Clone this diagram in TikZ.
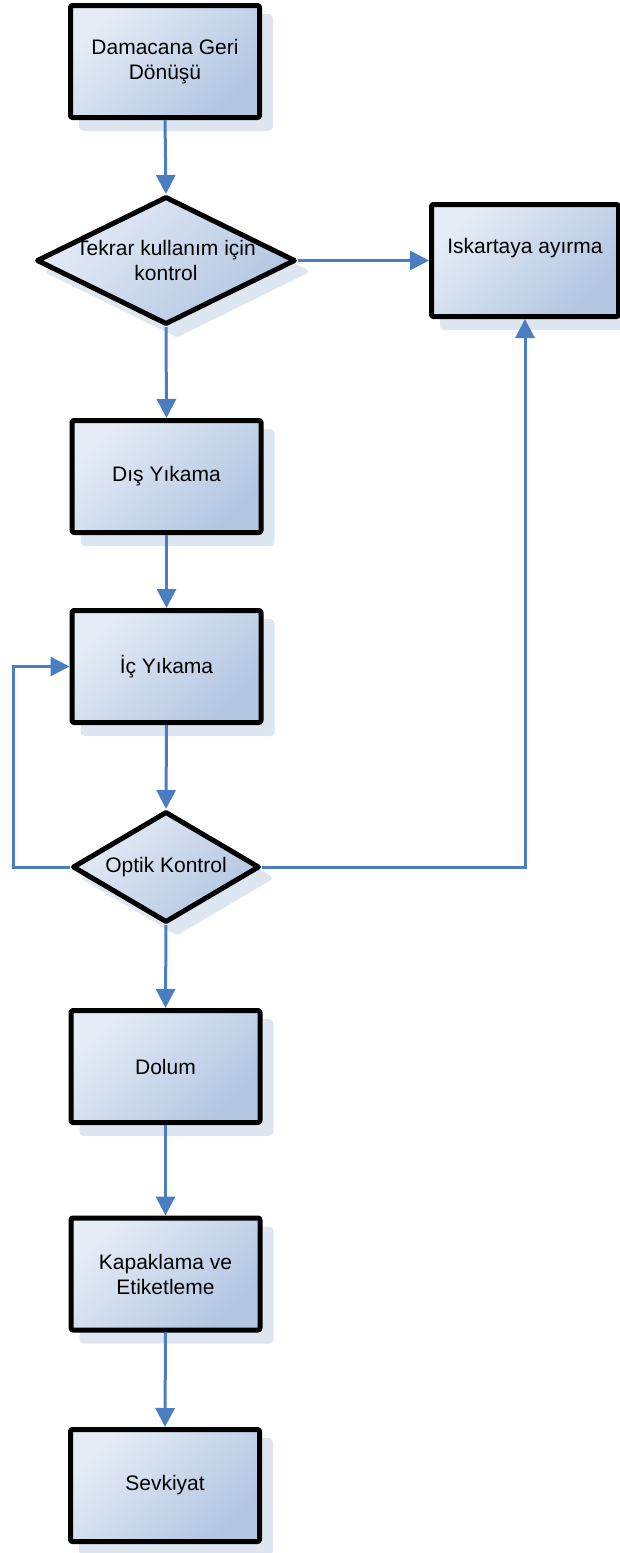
\documentclass[tikz,border=0pt]{standalone}
\usepackage{fontspec}
\setmainfont{Liberation Sans}
\usetikzlibrary{shapes.geometric,arrows.meta,shadows}

\definecolor{flowblue}{RGB}{74,126,193}
\definecolor{filltop}{RGB}{229,236,246}
\definecolor{fillbot}{RGB}{178,197,225}
\definecolor{shadowc}{RGB}{222,230,241}

\tikzset{
  shapebase/.style={draw=black, line width=5pt, line join=round,
    top color=filltop, bottom color=fillbot, shading angle=45,
    inner sep=0pt,
    general shadow={fill=shadowc, draw=shadowc, line width=5pt, line join=round,
      shadow xshift=11pt, shadow yshift=-11pt}},
  procbox/.style={shapebase, rectangle, rounded corners=2pt,
    minimum width=189pt, minimum height=112pt,
    font=\fontsize{21}{25}\selectfont, align=center},
  decision/.style={shapebase, diamond},
  txt/.style={inner sep=0pt, font=\fontsize{21}{25}\selectfont, align=center},
  flow/.style={draw=flowblue, line width=3pt,
    -{Triangle[length=19pt,width=19pt]}},
  plain/.style={draw=flowblue, line width=3pt}
}

\begin{document}
\begin{tikzpicture}[x=1pt,y=-1pt]
  \useasboundingbox (0,0) rectangle (619,1553);

  % process steps
  \node[procbox] (ret)   at (165,61.5)    {Damacana Geri\\Dönüşü};
  \node[decision, minimum width=259pt, minimum height=128pt] (reuse) at (166,260.5) {};
  \node[txt] (reuseT) at (reuse.center) {Tekrar kullanım için\\kontrol};
  \node[procbox, minimum width=187pt] (scrap) at (525,260.5) {};
  \node[txt] (scrapT) at (525,248) {Iskartaya ayırma};
  \node[procbox] (outer) at (166.5,476.5) {Dış Yıkama};
  \node[procbox] (inner) at (166.5,666.5) {İç Yıkama};
  \node[decision, minimum width=187pt, minimum height=111pt] (optic) at (166,867) {};
  \node[txt] (opticT) at (optic.center) {Optik Kontrol};
  \node[procbox] (fill)  at (165.5,1066.5) {Dolum};
  \node[procbox] (cap)   at (165.5,1274)   {Kapaklama ve\\Etiketleme};
  \node[procbox] (ship)  at (165,1485.5)   {Sevkiyat};

  \coordinate (loopL) at (13,0);

  % main flow
  \draw[flow] (ret.south)   -- (reuse.north);
  \draw[flow] (reuse.east)  -- (scrap.west);
  \draw[flow] (reuse.south) -- (outer.north);
  \draw[flow] (outer.south) -- (inner.north);
  \draw[flow] (inner.south) -- (optic.north);
  \draw[flow] (optic.south) -- (fill.north);
  \draw[flow] (fill.south)  -- (cap.north);
  \draw[flow] (cap.south)   -- (ship.north);

  % rework loop and rejection path
  \draw[flow] (optic.west) -- (loopL |- optic.west) -- (loopL |- inner.west) -- (inner.west);
  \draw[flow] (optic.east) -| (scrap.south);
\end{tikzpicture}
\end{document}
